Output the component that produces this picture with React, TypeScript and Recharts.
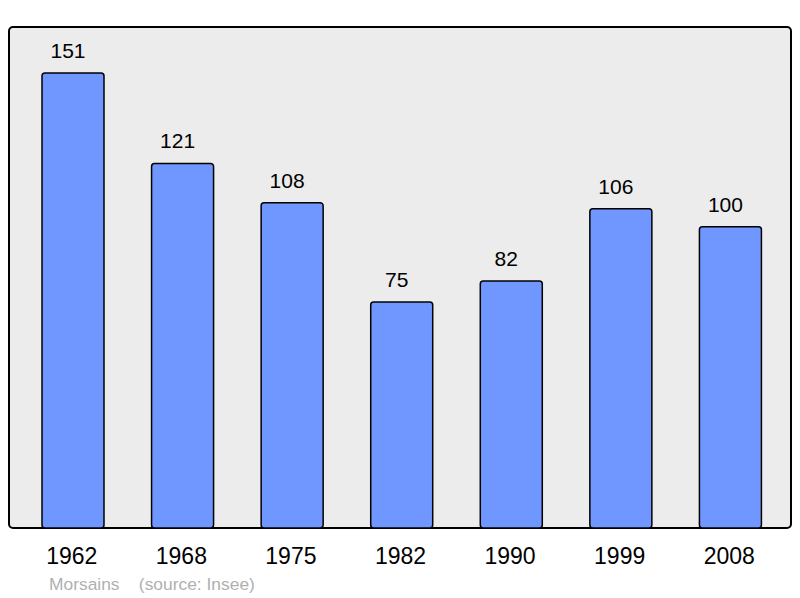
import React from "react";
import { BarChart, Bar, XAxis, YAxis, LabelList } from "recharts";

const years = ["1962", "1968", "1975", "1982", "1990", "1999", "2008"];
const population = [151, 121, 108, 75, 82, 106, 100];
const commune = "Morsains";
const source = "(source: Insee)";

const data = years.map((y, i) => ({ year: y, value: population[i] }));

const FONT = "'Liberation Sans', Arial, Helvetica, sans-serif";

export default function App() {
  return (
    <div
      style={{
        position: "absolute",
        left: 0,
        top: 0,
        width: 800,
        height: 598,
        background: "#ffffff",
        fontFamily: FONT,
      }}
    >
      <div
        style={{
          position: "absolute",
          left: 8,
          top: 26,
          width: 784,
          height: 503,
          boxSizing: "border-box",
          border: "2px solid #000",
          borderRadius: 5,
          background: "#ececec",
        }}
      />
      <div style={{ position: "absolute", left: 0, top: 0 }}>
        <BarChart
          width={800}
          height={598}
          data={data}
          margin={{ top: 27, right: 9, bottom: 40, left: 9 }}
          barCategoryGap={0}
        >
          <XAxis
            dataKey="year"
            height={30}
            axisLine={false}
            tickLine={false}
            tickMargin={14}
            padding={{ left: 9, right: 6 }}
            interval={0}
            tick={{ fontSize: 23, fill: "#000", fontFamily: FONT, dx: -1 }}
          />
          <YAxis hide domain={[0, 166.3]} type="number" allowDataOverflow />
          <Bar
            dataKey="value"
            fill="#7097ff"
            stroke="#000"
            strokeWidth={1.5}
            barSize={62}
            radius={3}
            isAnimationActive={false}
          >
            <LabelList
              dataKey="value"
              position="top"
              offset={15}
              dx={-5}
              style={{ fontSize: 21, fill: "#000", fontFamily: FONT }}
            />
          </Bar>
        </BarChart>
      </div>
      <div
        style={{
          position: "absolute",
          left: 49,
          top: 576,
          fontSize: 17.4,
          lineHeight: "17px",
          color: "#b0b0b0",
          whiteSpace: "pre",
          fontFamily: FONT,
        }}
      >
        {commune + "    " + source}
      </div>
    </div>
  );
}
